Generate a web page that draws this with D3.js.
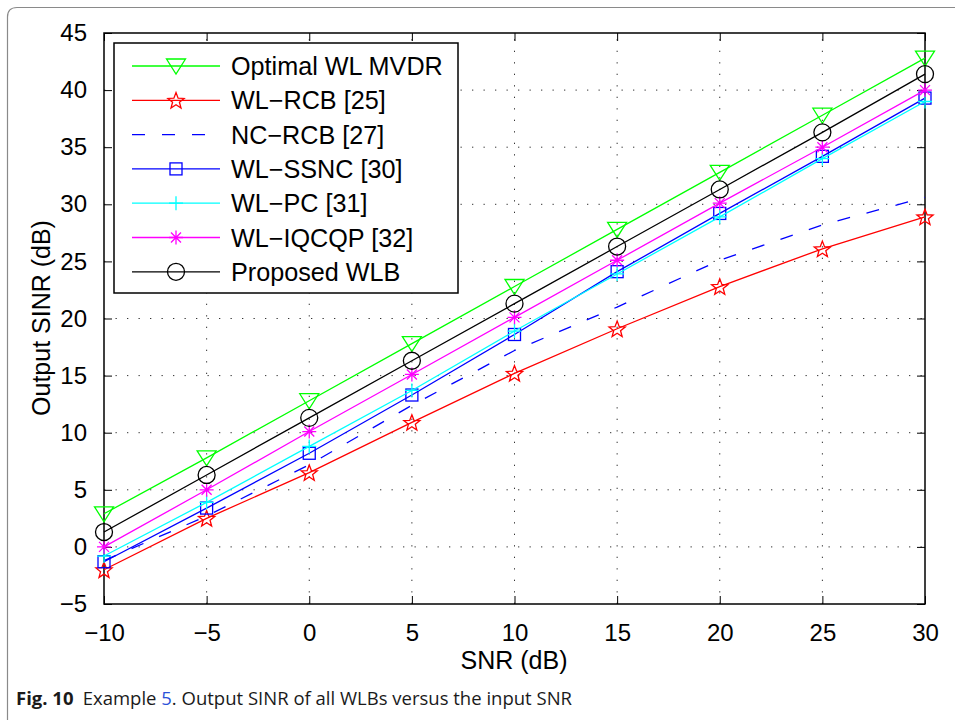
<!DOCTYPE html>
<html><head><meta charset="utf-8">
<script src="https://cdn.jsdelivr.net/npm/d3@7/dist/d3.min.js"></script>
<style>body{margin:0;background:#fff;}svg{display:block;}</style>
</head><body>
<svg id="c" width="955" height="720"></svg>
<script>
const snr = [-10, -5, 0, 5, 10, 15, 20, 25, 30];
const optimalWlMvdr = [2.9, 7.8, 12.8, 17.8, 22.8, 27.8, 32.8, 37.8, 42.8];
const wlRcb = [-2.0, 2.5, 6.5, 10.9, 15.2, 19.1, 22.8, 26.1, 28.9];
const ncRcb = [-1.2, 2.7, 7.2, 12.4, 17.2, 21.0, 25.1, 28.2, 30.6];
const wlSsnc = [-1.3, 3.4, 8.2, 13.3, 18.6, 24.1, 29.2, 34.2, 39.3];
const wlPc = [-0.8, 3.9, 8.8, 13.7, 18.9, 23.9, 28.9, 34.0, 39.0];
const wlIqcqp = [0.0, 5.0, 10.1, 15.1, 20.1, 25.1, 30.1, 35.0, 40.0];
const proposedWlb = [1.3, 6.3, 11.3, 16.3, 21.3, 26.3, 31.3, 36.3, 41.4];
const xTicks = [-10, -5, 0, 5, 10, 15, 20, 25, 30];
const yTicks = [-5, 0, 5, 10, 15, 20, 25, 30, 35, 40, 45];
const seriesNames = ["Optimal WL MVDR", "WL\u2212RCB [25]", "NC\u2212RCB [27]", "WL\u2212SSNC [30]", "WL\u2212PC [31]", "WL\u2212IQCQP [32]", "Proposed WLB"];

const series = [
  {name: seriesNames[0], values: optimalWlMvdr, color: "#00ff00", marker: "tri", dash: null},
  {name: seriesNames[1], values: wlRcb, color: "#ff0000", marker: "star", dash: null},
  {name: seriesNames[2], values: ncRcb, color: "#0000ff", marker: null, dash: "13,17"},
  {name: seriesNames[3], values: wlSsnc, color: "#0000ff", marker: "square", dash: null},
  {name: seriesNames[4], values: wlPc, color: "#00ffff", marker: "plus", dash: null},
  {name: seriesNames[5], values: wlIqcqp, color: "#ff00ff", marker: "aster", dash: null},
  {name: seriesNames[6], values: proposedWlb, color: "#000000", marker: "circle", dash: null}
];

const svg = d3.select("#c");
const font = "'Liberation Sans', Arial, Helvetica, sans-serif";
const L = 104, R = 925, T = 33, B = 604;
const x = d3.scaleLinear().domain([-10, 30]).range([L, R]);
const y = d3.scaleLinear().domain([-5, 45]).range([B, T]);

// outer figure frame
svg.append("path")
  .attr("d", "M7.5,730 L7.5,17 Q7.5,7.5 17,7.5 L970,7.5")
  .attr("fill", "none").attr("stroke", "#8a8a8a").attr("stroke-width", 1.2);

// grid
const g = svg.append("g");
g.selectAll("line.gx").data(xTicks.slice(1, -1)).enter().append("line")
  .attr("x1", d => x(d)).attr("x2", d => x(d)).attr("y1", B).attr("y2", T)
  .attr("stroke", "#333").attr("stroke-width", 1).attr("stroke-dasharray", "1.3,10.2");
g.selectAll("line.gy").data(yTicks.slice(1, -1)).enter().append("line")
  .attr("y1", d => y(d)).attr("y2", d => y(d)).attr("x1", L).attr("x2", R)
  .attr("stroke", "#333").attr("stroke-width", 1).attr("stroke-dasharray", "1.3,10.2");

// axes with inward ticks on all sides
const tl = 8;
const axB = d3.axisBottom(x).tickValues(xTicks).tickSize(-tl).tickPadding(20).tickFormat(d => d < 0 ? "\u2212" + Math.abs(d) : d);
const axT = d3.axisTop(x).tickValues(xTicks).tickSize(-tl).tickFormat("");
const axLf = d3.axisLeft(y).tickValues(yTicks).tickSize(-tl).tickPadding(17).tickFormat(d => d < 0 ? "\u2212" + Math.abs(d) : d);
const axRt = d3.axisRight(y).tickValues(yTicks).tickSize(-tl).tickFormat("");
function styleAxis(sel) {
  sel.select(".domain").remove();
  sel.selectAll(".tick line").attr("stroke", "#000").attr("stroke-width", 1);
  sel.selectAll("text").attr("font-family", font).attr("font-size", 24).attr("fill", "#000");
}
svg.append("g").attr("transform", `translate(0,${B})`).call(axB).call(styleAxis);
svg.append("g").attr("transform", `translate(0,${T})`).call(axT).call(styleAxis);
svg.append("g").attr("transform", `translate(${L},0)`).call(axLf).call(styleAxis);
svg.append("g").attr("transform", `translate(${R},0)`).call(axRt).call(styleAxis);
svg.append("rect").attr("x", L).attr("y", T).attr("width", R - L).attr("height", B - T)
  .attr("fill", "none").attr("stroke", "#000").attr("stroke-width", 1.5);

// marker drawing
function drawMarker(sel, type, color) {
  const s = {fill: "none", stroke: color, "stroke-width": 1.3};
  let el;
  if (type === "tri") {
    el = sel.append("path").attr("d", "M-9.5,-7 L9.5,-7 L0,8 Z");
  } else if (type === "star") {
    const pts = [];
    for (let i = 0; i < 10; i++) {
      const r = i % 2 === 0 ? 8.5 : 3.6;
      const a = -Math.PI / 2 + i * Math.PI / 5;
      pts.push([r * Math.cos(a), r * Math.sin(a) + 0.8]);
    }
    el = sel.append("path").attr("d", "M" + pts.map(p => p.join(",")).join("L") + "Z");
  } else if (type === "square") {
    el = sel.append("rect").attr("x", -6).attr("y", -6).attr("width", 12).attr("height", 12);
  } else if (type === "plus") {
    el = sel.append("path").attr("d", "M-7,0 L7,0 M0,-7 L0,7");
  } else if (type === "aster") {
    el = sel.append("path").attr("d", "M-7,0 L7,0 M0,-7 L0,7 M-5,-5 L5,5 M-5,5 L5,-5");
  } else if (type === "circle") {
    el = sel.append("circle").attr("r", 8.5);
  }
  if (el) Object.entries(s).forEach(([k, v]) => el.attr(k, v));
}

const line = d3.line().x((d, i) => x(snr[i])).y(d => y(d));
series.forEach(sr => {
  svg.append("path").datum(sr.values).attr("d", line)
    .attr("fill", "none").attr("stroke", sr.color).attr("stroke-width", 1.3)
    .attr("stroke-dasharray", sr.dash);
  if (sr.marker) {
    sr.values.forEach((v, i) => {
      const m = svg.append("g").attr("transform", `translate(${x(snr[i])},${y(v)})`);
      drawMarker(m, sr.marker, sr.color);
    });
  }
});

// legend
const lg = svg.append("g");
lg.append("rect").attr("x", 114).attr("y", 43).attr("width", 344).attr("height", 250)
  .attr("fill", "#fff").attr("stroke", "#000").attr("stroke-width", 1.5);
series.forEach((sr, i) => {
  const yy = 66 + i * 34.3;
  lg.append("line").attr("x1", 132).attr("x2", 220).attr("y1", yy).attr("y2", yy)
    .attr("stroke", sr.color).attr("stroke-width", 1.3).attr("stroke-dasharray", sr.dash);
  if (sr.marker) {
    const m = lg.append("g").attr("transform", `translate(176,${yy})`);
    drawMarker(m, sr.marker, sr.color);
  }
  lg.append("text").attr("x", 231).attr("y", yy + 9).text(sr.name)
    .attr("font-family", font).attr("font-size", 25.2).attr("fill", "#000");
});

// axis labels
svg.append("text").attr("x", 514).attr("y", 669).attr("text-anchor", "middle")
  .attr("font-family", font).attr("font-size", 25).text("SNR (dB)");
svg.append("text").attr("transform", "translate(50,318) rotate(-90)").attr("text-anchor", "middle")
  .attr("font-family", font).attr("font-size", 25).text("Output SINR (dB)");

// caption
const cap = svg.append("text").attr("x", 16).attr("y", 705)
  .attr("font-family", "'Open Sans', 'Noto Sans', sans-serif").attr("font-size", 18).attr("fill", "#1a1a1a")
  .attr("textLength", 556).attr("lengthAdjust", "spacingAndGlyphs");
cap.append("tspan").attr("font-weight", "bold").text("Fig. 10");
cap.append("tspan").text("\u2002Example ");
cap.append("tspan").attr("fill", "#2a52d8").text("5");
cap.append("tspan").text(". Output SINR of all WLBs versus the input SNR");
</script>
</body></html>
